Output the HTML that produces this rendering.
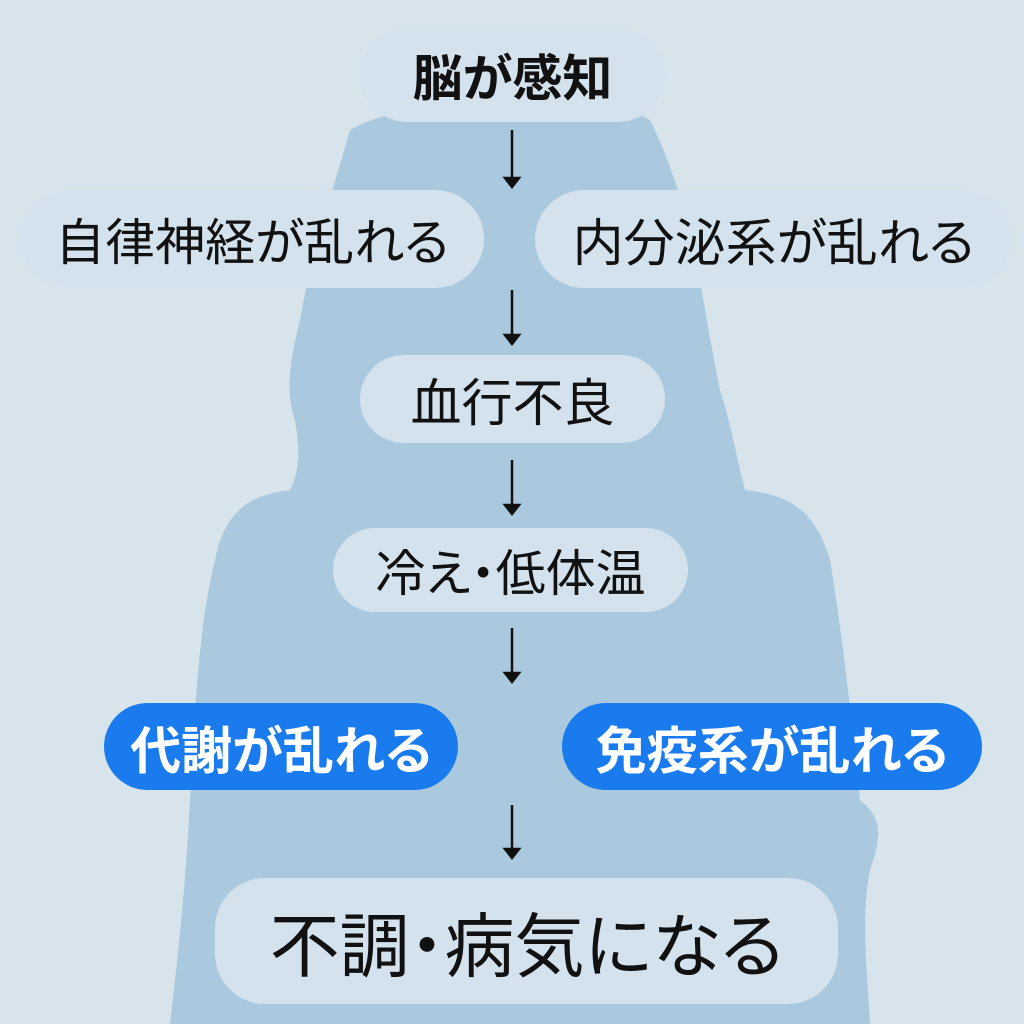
<!DOCTYPE html>
<html><head><meta charset="utf-8"><style>
body{margin:0;width:1024px;height:1024px;background:#d8e4ec;position:relative;overflow:hidden;font-family:"Liberation Sans","Noto Sans CJK JP",sans-serif;}
.p{position:absolute;background:#d3e2ed;border-radius:40px;display:flex;align-items:center;justify-content:center;color:#111;white-space:nowrap;font-feature-settings:"palt";}
.b{background:#1a7bef;color:#fff;font-weight:bold;}
svg{position:absolute;left:0;top:0}
</style></head><body>
<svg width="1024" height="1024">
<path fill="#aac9df" d="M350,130 C330,200 310,260 300,320 C290,360 285,390 295,420 C300,450 300,470 290,490 C250,495 225,510 215,560 C200,620 195,700 190,800 C185,900 175,980 170,1024 L870,1024 C868,980 860,920 870,870 C880,840 885,820 860,800 C850,700 840,620 830,560 C815,510 790,495 745,490 C735,450 730,420 720,390 C712,350 705,310 700,280 C690,220 670,160 650,120 C600,90 420,90 350,130 Z"/>
<g stroke="#111" stroke-width="2.5" fill="#111">
<line x1="512" y1="130" x2="512" y2="180"/><path d="M505,178 L519,178 L512,187Z"/>
<line x1="512" y1="290" x2="512" y2="337"/><path d="M505,335 L519,335 L512,344Z"/>
<line x1="512" y1="460" x2="512" y2="507"/><path d="M505,505 L519,505 L512,514Z"/>
<line x1="512" y1="628" x2="512" y2="675"/><path d="M505,673 L519,673 L512,682Z"/>
<line x1="512" y1="805" x2="512" y2="851"/><path d="M505,849 L519,849 L512,858Z"/>
</g>
</svg>
<div class="p" style="left:360px;top:28px;width:305px;height:94px;font-size:50px;font-weight:bold;border-radius:47px">脳が感知</div>
<div class="p" style="left:20px;top:190px;width:464px;height:98px;font-size:50px;border-radius:49px">自律神経が乱れる</div>
<div class="p" style="left:535px;top:190px;width:477px;height:98px;font-size:51px;border-radius:49px">内分泌系が乱れる</div>
<div class="p" style="left:360px;top:355px;width:305px;height:88px;font-size:51px;border-radius:44px">血行不良</div>
<div class="p" style="left:333px;top:528px;width:355px;height:84px;font-size:50px;border-radius:42px">冷え・低体温</div>
<div class="p b" style="left:104px;top:703px;width:354px;height:87px;font-size:51px;border-radius:44px">代謝が乱れる</div>
<div class="p b" style="left:562px;top:703px;width:420px;height:87px;font-size:51px;border-radius:44px">免疫系が乱れる</div>
<div class="p" style="left:215px;top:878px;width:623px;height:126px;font-size:70px;border-radius:50px">不調・病気になる</div>
</body></html>
